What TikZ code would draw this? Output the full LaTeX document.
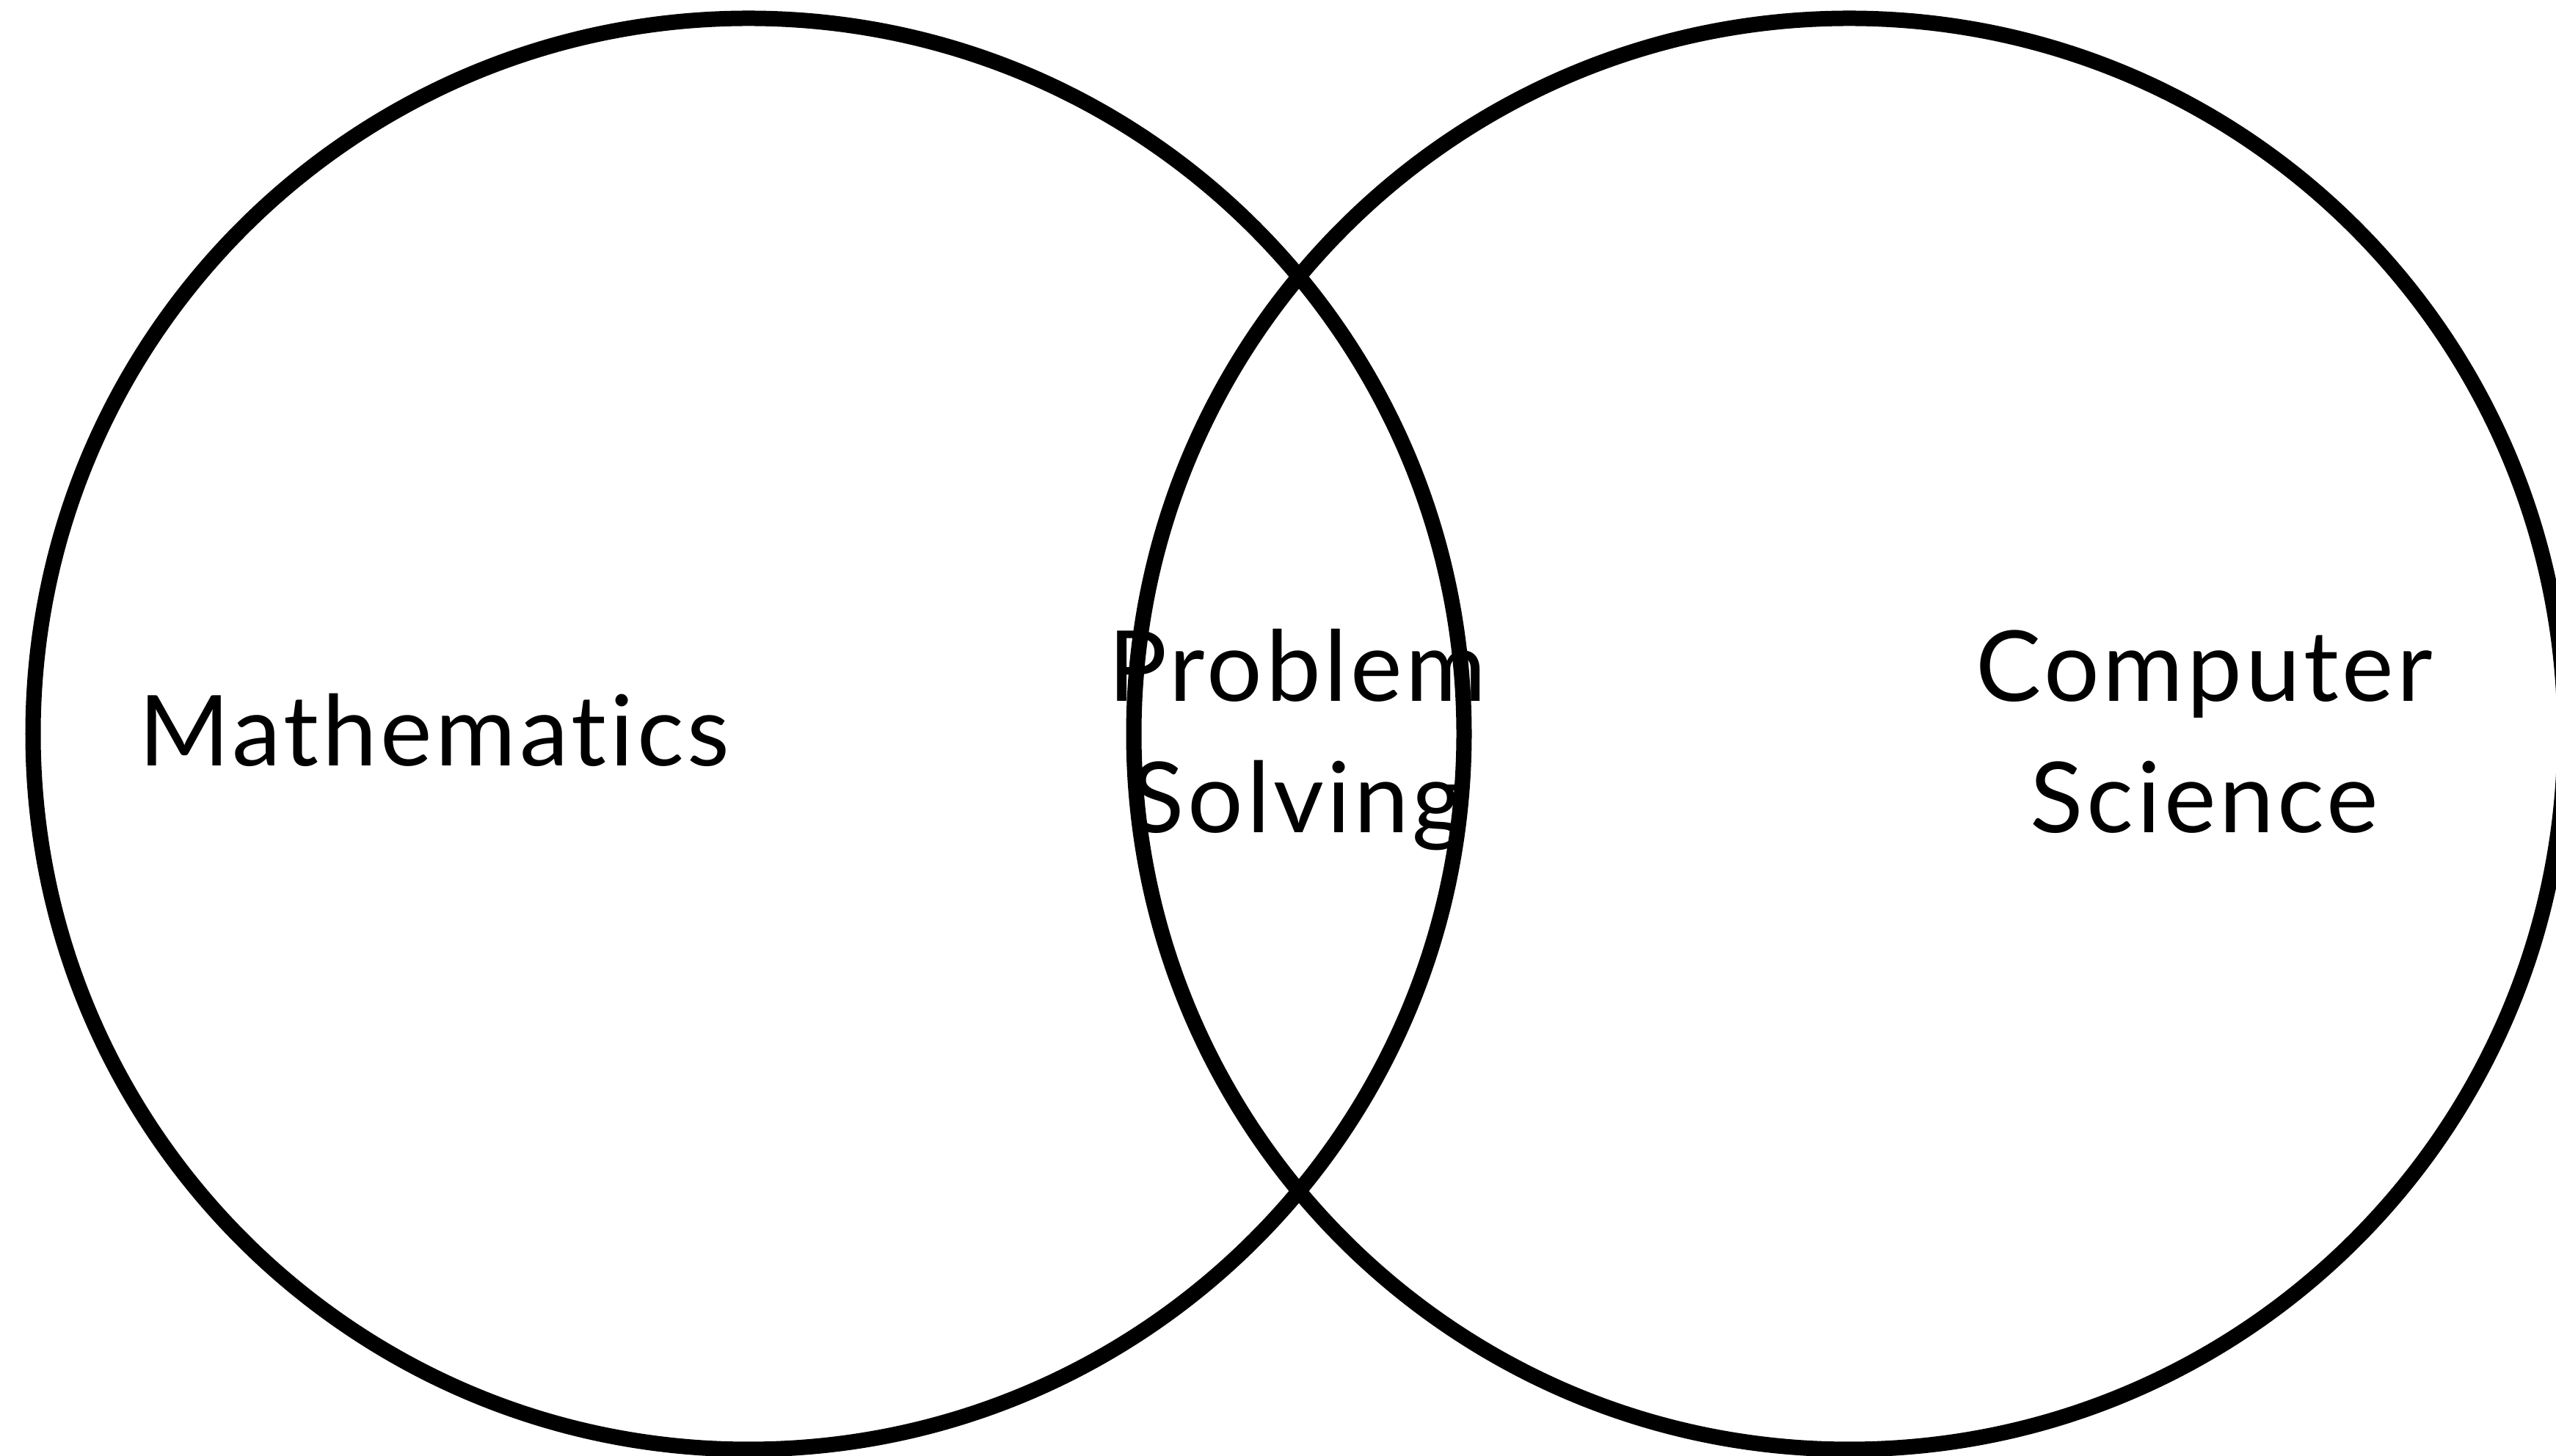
\documentclass[tikz,border=0pt]{standalone}
\usepackage{fontspec}
\setmainfont{Lato}[Ligatures=NoCommon, LetterSpace=3.5]
\begin{document}
\begin{tikzpicture}[
  setcircle/.style={draw=black, line width=0.21cm, circle, minimum size=19.5cm, inner sep=0pt},
  setlabel/.style={font=\fontsize{38}{51.2}\selectfont, align=center, inner sep=0pt, anchor=base}
]
\useasboundingbox (0,0) rectangle (34.83,19.84);
\node[setcircle] (math) at (10.20,9.84) {};
\node[setcircle] (cs) at (25.20,9.84) {};
\node[setlabel] (mlabel) at (5.92,9.40) {Mathematics};
\node[setlabel] (plabel) at (17.68,8.49) {Problem\\Solving};
\node[setlabel] (clabel) at (30.04,8.49) {Computer\\Science};
\end{tikzpicture}
\end{document}
